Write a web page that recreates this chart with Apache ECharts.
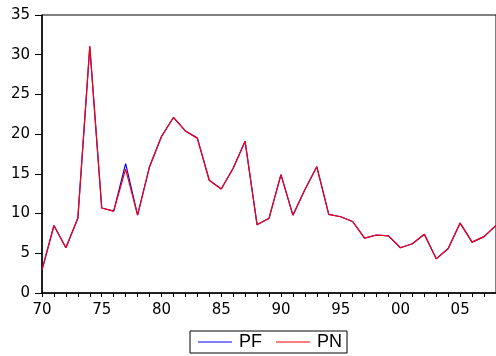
<!DOCTYPE html>
<html>
<head>
<meta charset="utf-8">
<script src="https://cdn.jsdelivr.net/npm/echarts@6/dist/echarts.min.js"></script>
<style>
  html, body { margin: 0; padding: 0; background: #fff; }
  #chart { width: 496px; height: 356px; }
</style>
</head>
<body>
<div id="chart"></div>
<script>
// Years 1970-2008 shown as two-digit labels
const years = ["70","71","72","73","74","75","76","77","78","79",
               "80","81","82","83","84","85","86","87","88","89",
               "90","91","92","93","94","95","96","97","98","99",
               "00","01","02","03","04","05","06","07","08"];

const pf = [2.9, 8.5, 5.7, 9.4, 31.0, 10.7, 10.3, 16.3, 9.8, 15.9,
            19.7, 22.1, 20.4, 19.5, 14.2, 13.1, 15.7, 19.1, 8.6, 9.4,
            14.9, 9.8, 13.0, 15.9, 9.9, 9.6, 9.0, 6.9, 7.3, 7.2,
            5.7, 6.2, 7.4, 4.3, 5.6, 8.8, 6.4, 7.1, 8.5];

const pn = [2.9, 8.5, 5.7, 9.4, 31.1, 10.7, 10.3, 15.6, 9.8, 15.9,
            19.7, 22.1, 20.4, 19.5, 14.2, 13.1, 15.7, 19.1, 8.6, 9.4,
            14.9, 9.8, 13.0, 15.9, 9.9, 9.6, 9.0, 6.9, 7.3, 7.2,
            5.7, 6.2, 7.4, 4.3, 5.6, 8.8, 6.4, 7.1, 8.5];

const yTicks = { min: 0, max: 35, step: 5 };

const chart = echarts.init(document.getElementById('chart'), null, { renderer: 'canvas' });

const axisFont = 'DejaVu Sans, sans-serif';
const legendFont = 'Liberation Sans, Arial, sans-serif';

chart.setOption({
  animation: false,
  backgroundColor: '#fff',
  grid: {
    left: 42, top: 15, right: -2, bottom: 63,
    show: true, borderColor: '#000', borderWidth: 1, backgroundColor: 'transparent'
  },
  legend: {
    top: 331,
    left: 190,
    data: ['PF', 'PN'],
    icon: 'rect',
    itemWidth: 34,
    itemHeight: 1.2,
    itemGap: 14,
    padding: [2, 5, 2, 8],
    borderColor: '#000',
    borderWidth: 1,
    textStyle: { fontFamily: legendFont, fontSize: 18, color: '#000', padding: [0, 0, 0, 2] }
  },
  xAxis: {
    type: 'category',
    data: years,
    boundaryGap: false,
    axisLine: { lineStyle: { color: '#000', width: 1.5 } },
    axisTick: { show: true, interval: 0, length: 4, lineStyle: { color: '#000', width: 1 } },
    axisLabel: {
      interval: (i) => i % 5 === 0,
      margin: 10,
      fontFamily: axisFont, fontSize: 15, color: '#000'
    },
    splitLine: { show: false }
  },
  yAxis: {
    type: 'value',
    min: yTicks.min, max: yTicks.max, interval: yTicks.step,
    axisLine: { show: true, lineStyle: { color: '#000', width: 1.5 } },
    axisTick: { show: true, length: 7, lineStyle: { color: '#000', width: 1 } },
    axisLabel: { margin: 12, fontFamily: axisFont, fontSize: 15, color: '#000' },
    splitLine: { show: false }
  },
  series: [
    {
      name: 'PF', type: 'line', data: pf, symbol: 'none',
      lineStyle: { color: '#0000ff', width: 1.2 }, itemStyle: { color: '#0000ff' }
    },
    {
      name: 'PN', type: 'line', data: pn, symbol: 'none',
      lineStyle: { color: '#ff0000', width: 1.2 }, itemStyle: { color: '#ff0000' }
    }
  ]
});
</script>
</body>
</html>
